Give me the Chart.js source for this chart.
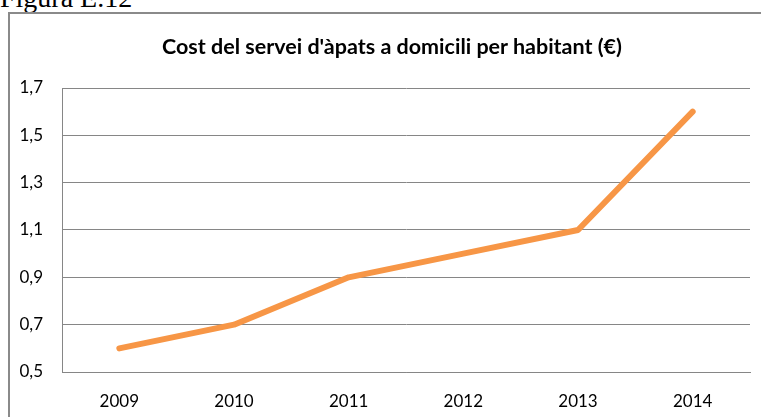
<!DOCTYPE html>
<html>
<head>
<meta charset="utf-8">
<script src="https://cdn.jsdelivr.net/npm/chart.js@4/dist/chart.umd.min.js"></script>
<style>
  body { margin: 0; background: #fff; overflow: hidden; }
  #caption { position: absolute; left: 0; top: -16px; font-family: "Liberation Serif", serif; font-size: 28px; line-height: 28px; color: #000; }
  #frame { position: absolute; left: 8px; top: 12px; width: 800px; height: 450px; border: 2px solid #8a8a8a; box-sizing: border-box; }
  #wrap { position: absolute; left: 0; top: 0; width: 761px; height: 417px; }
  #title { position: absolute; left: 92px; width: 600px; top: 33px; text-align: center; white-space: nowrap;
           font-family: "Lato", sans-serif; font-weight: bold; font-size: 21.5px; line-height: 26px; color: #000; }
</style>
</head>
<body>
<div id="caption">Figura E.12</div>
<div id="frame"></div>
<div id="wrap"><canvas id="lineChartCost"></canvas></div>
<div id="title"></div>
<script>
// years on the x axis
const years = ["2009", "2010", "2011", "2012", "2013", "2014"];

// cost per inhabitant, euros
const costValues = [0.6, 0.7, 0.9, 1.0, 1.1, 1.6];

// y axis range
const yMin = 0.5, yMax = 1.7, yStep = 0.2;

const chartTitle = "Cost del servei d'àpats a domicili per habitant (€)";
document.getElementById("title").textContent = chartTitle;

const lineChartCost = new Chart("lineChartCost", {
    type: "line",
    data: {
        labels: years,
        datasets: [{
            data: costValues,
            borderColor: "#F79646",
            borderWidth: 6,
            borderCapStyle: "round",
            borderJoinStyle: "round",
            pointRadius: 0,
            tension: 0
        }]
    },
    options: {
        responsive: true,
        maintainAspectRatio: false,
        animation: false,
        layout: { padding: { left: 0, right: 11, top: 88, bottom: 0 } },
        plugins: {
            legend: { display: false },
            tooltip: { enabled: false },
            title: { display: false }
        },
        scales: {
            x: {
                offset: true,
                grid: { display: false, drawTicks: false },
                border: { display: true, color: "#868686", width: 1 },
                ticks: { color: "#000", padding: 19, font: { family: "Lato", size: 17 } },
                afterFit: (scale) => { scale.height = 45; }
            },
            y: {
                min: yMin, max: yMax,
                grid: { color: "#868686", lineWidth: 1, drawTicks: false },
                border: { display: true, color: "#868686", width: 1 },
                ticks: {
                    stepSize: yStep, color: "#000", padding: 19,
                    font: { family: "Lato", size: 17 },
                    callback: (v) => v.toFixed(1).replace(".", ",")
                },
                afterFit: (scale) => { scale.width = 62; }
            }
        }
    }
});
</script>
</body>
</html>
